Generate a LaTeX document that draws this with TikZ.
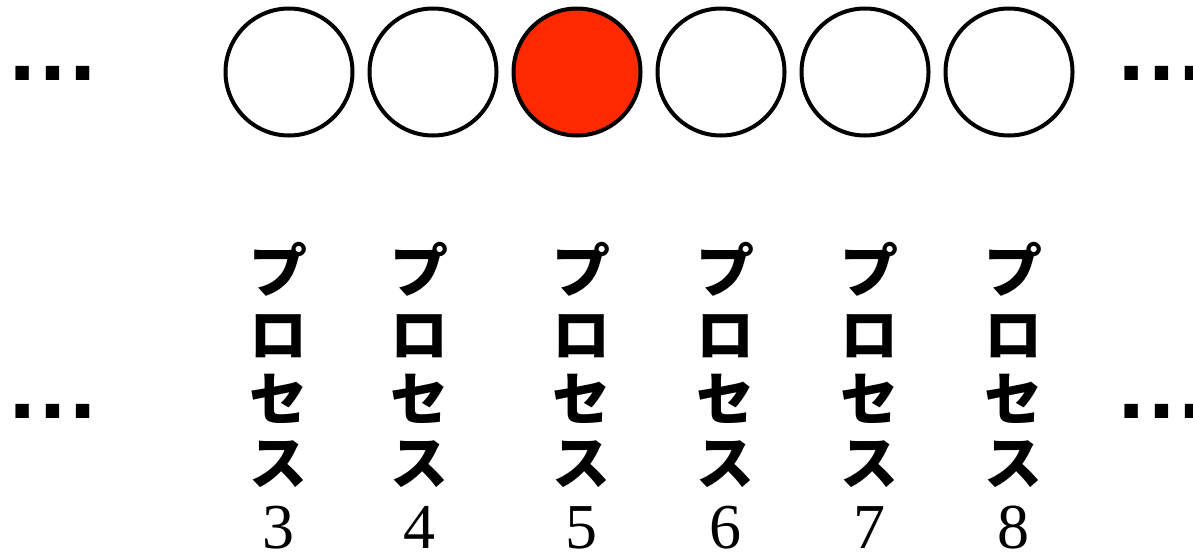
\documentclass[tikz,border=0pt]{standalone}
\usepackage{fontspec}
\usepackage{xcolor}
\setmainfont{Liberation Serif}
\newfontfamily\jpfont{Noto Sans CJK JP}
\newfontfamily\dotfont{Liberation Sans}
\definecolor{processred}{RGB}{255,41,0}

\begin{document}
\begin{tikzpicture}[x=1pt, y=-1pt,
    proc/.style={draw, circle, line width=4pt, minimum size=127pt, inner sep=0pt, fill=white},
    proclabel/.style={anchor=north, align=center, inner sep=0pt, font=\jpfont\bfseries\fontsize{58}{64}\selectfont},
    more/.style={anchor=base, inner sep=0pt, font=\dotfont\bfseries\fontsize{95}{95}\selectfont}]
    \useasboundingbox (0,0) rectangle (1193,552);

    % Process circles
    \node[proc] (p3) at (289,72) {};
    \node[proc] (p4) at (433,72) {};
    \node[proc, fill=processred] (p5) at (577,72) {};
    \node[proc] (p6) at (721,72) {};
    \node[proc] (p7) at (865,72) {};
    \node[proc] (p8) at (1009,72) {};

    % Vertical labels
    \node[proclabel] (l3) at (278,242) {プ\\ロ\\セ\\ス\\{\rmfamily\mdseries\fontsize{64}{62}\selectfont 3}};
    \node[proclabel] (l4) at (419,242) {プ\\ロ\\セ\\ス\\{\rmfamily\mdseries\fontsize{64}{62}\selectfont 4}};
    \node[proclabel] (l5) at (581,242) {プ\\ロ\\セ\\ス\\{\rmfamily\mdseries\fontsize{64}{62}\selectfont 5}};
    \node[proclabel] (l6) at (725,242) {プ\\ロ\\セ\\ス\\{\rmfamily\mdseries\fontsize{64}{62}\selectfont 6}};
    \node[proclabel] (l7) at (869,242) {プ\\ロ\\セ\\ス\\{\rmfamily\mdseries\fontsize{64}{62}\selectfont 7}};
    \node[proclabel] (l8) at (1013,242) {プ\\ロ\\セ\\ス\\{\rmfamily\mdseries\fontsize{64}{62}\selectfont 8}};

    % Ellipses on both sides
    \node[more] (dotsTL) at (53,80) {…};
    \node[more] (dotsTR) at (1162,80) {…};
    \node[more] (dotsBL) at (53,418) {…};
    \node[more] (dotsBR) at (1162,418) {…};
\end{tikzpicture}
\end{document}
